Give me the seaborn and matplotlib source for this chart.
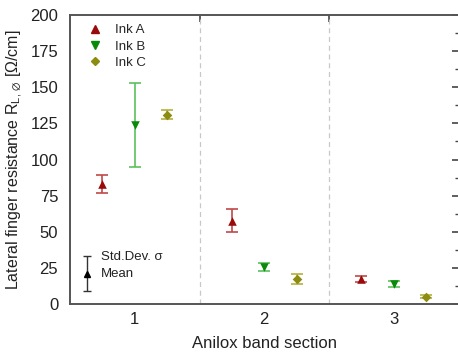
import matplotlib
matplotlib.use("Agg")
import matplotlib.pyplot as plt
import seaborn as sns
import pandas as pd
import numpy as np
from matplotlib.ticker import MultipleLocator, FixedLocator, NullFormatter
from matplotlib.lines import Line2D

sections = [1, 2, 3]
inks = ["Ink A", "Ink B", "Ink C"]
mean_a = [83, 57.5, 17.5]
std_a = [6.5, 8, 2]
mean_b = [124, 25.5, 13.8]
std_b = [29, 3, 2]
mean_c = [131, 17, 5]
std_c = [3, 3.5, 1]

marker_colors = {"Ink A": "#9a0a0a", "Ink B": "#0a8a0a", "Ink C": "#8c8c10"}
err_colors = {"Ink A": "#c04848", "Ink B": "#5cc05c", "Ink C": "#b4b040"}
markers = {"Ink A": "^", "Ink B": "v", "Ink C": "D"}
sizes = {"Ink A": 38, "Ink B": 38, "Ink C": 24}
offsets = {"Ink A": -0.25, "Ink B": 0.0, "Ink C": 0.25}

rows = []
for ink, means, stds in zip(inks, [mean_a, mean_b, mean_c], [std_a, std_b, std_c]):
    for s, m, e in zip(sections, means, stds):
        rows.append({"ink": ink, "section": s, "x": s + offsets[ink], "mean": m, "std": e})
df = pd.DataFrame(rows)

sns.set_theme(style="white")
plt.rcParams["font.family"] = ["Liberation Sans", "DejaVu Sans"]
plt.rcParams["mathtext.fontset"] = "custom"
plt.rcParams["mathtext.rm"] = "Liberation Sans"
plt.rcParams["mathtext.it"] = "Liberation Sans:italic"

fig = plt.figure(figsize=(4.58, 3.54), dpi=100)
ax = fig.add_axes([70 / 458, 1 - 304 / 354, 388.5 / 458, 289 / 354])

for ink in inks:
    d = df[df.ink == ink]
    ax.errorbar(d["x"], d["mean"], yerr=d["std"], fmt="none", ecolor=err_colors[ink],
                elinewidth=1.2, capsize=4, capthick=1.2, zorder=2)
    sns.scatterplot(data=d, x="x", y="mean", color=marker_colors[ink], marker=markers[ink],
                    s=sizes[ink], edgecolor=None, linewidth=0, ax=ax, zorder=3, legend=False)

for xv in [1.5, 2.5]:
    ax.axvline(xv, color="#c8c8c8", linestyle=(0, (4, 3)), linewidth=0.9, zorder=1)

handles = [Line2D([], [], linestyle="none", marker=markers[i], color=marker_colors[i],
                  markersize=6 if i != "Ink C" else 4.5) for i in inks]
ax.legend(handles, inks, loc="upper left", frameon=False, fontsize=9.5,
          handlelength=1.2, handletextpad=0.9, labelspacing=0.3,
          borderaxespad=0.3, bbox_to_anchor=(0.02, 1.0))

# mean / std example
ax.errorbar([0.63], [21], yerr=[12], fmt="^", color="black", ecolor="#333333",
            markersize=5, elinewidth=1, capsize=3, capthick=1)
ax.text(0.74, 32.5, "Std.Dev. σ", fontsize=9.5, va="center", ha="left", color="#222222")
ax.text(0.74, 20.5, "Mean", fontsize=9.5, va="center", ha="left", color="#222222")

ax.set_xlim(0.5, 3.5)
ax.set_ylim(0, 200)
ax.xaxis.set_major_locator(FixedLocator([0.5, 1.5, 2.5, 3.5]))
ax.xaxis.set_major_formatter(NullFormatter())
ax.set_xticks(sections, minor=True)
ax.set_xticklabels([str(s) for s in sections], minor=True)
ax.yaxis.set_major_locator(MultipleLocator(25))
ax.yaxis.set_minor_locator(MultipleLocator(12.5))

ax.tick_params(axis="x", which="major", direction="out", length=5, width=1.2,
               color="#444444", top=False)
ax.tick_params(axis="x", which="minor", length=0, labelsize=12, pad=6, colors="#222222")
ax.tick_params(axis="y", which="major", direction="out", length=5, width=1.2,
               color="#444444", labelsize=12, labelcolor="#222222", right=False)
ax.tick_params(axis="y", which="minor", direction="out", length=3, width=1,
               color="#444444", right=False)

# mirrored inward ticks on top and right
top = ax.secondary_xaxis("top")
top.set_xticks([1.5, 2.5])
top.xaxis.set_major_formatter(NullFormatter())
top.tick_params(direction="in", length=5, width=1.2, color="#444444")
top.spines["top"].set_visible(False)
right = ax.secondary_yaxis("right")
right.yaxis.set_major_locator(MultipleLocator(25))
right.yaxis.set_minor_locator(MultipleLocator(12.5))
right.yaxis.set_major_formatter(NullFormatter())
right.tick_params(which="major", direction="in", length=5, width=1.2, color="#444444")
right.tick_params(which="minor", direction="in", length=3, width=1, color="#444444")
right.spines["right"].set_visible(False)

for sp in ax.spines.values():
    sp.set_color("#555555")
    sp.set_linewidth(1.4)

ax.set_xlabel("Anilox band section", fontsize=12, color="#222222", labelpad=6)
ax.set_ylabel(r"Lateral finger resistance R$_{\mathrm{L,}\,\varnothing}$ [Ω/cm]",
              fontsize=11.5, color="#222222", labelpad=4)

fig.savefig("out.png", dpi=100)
